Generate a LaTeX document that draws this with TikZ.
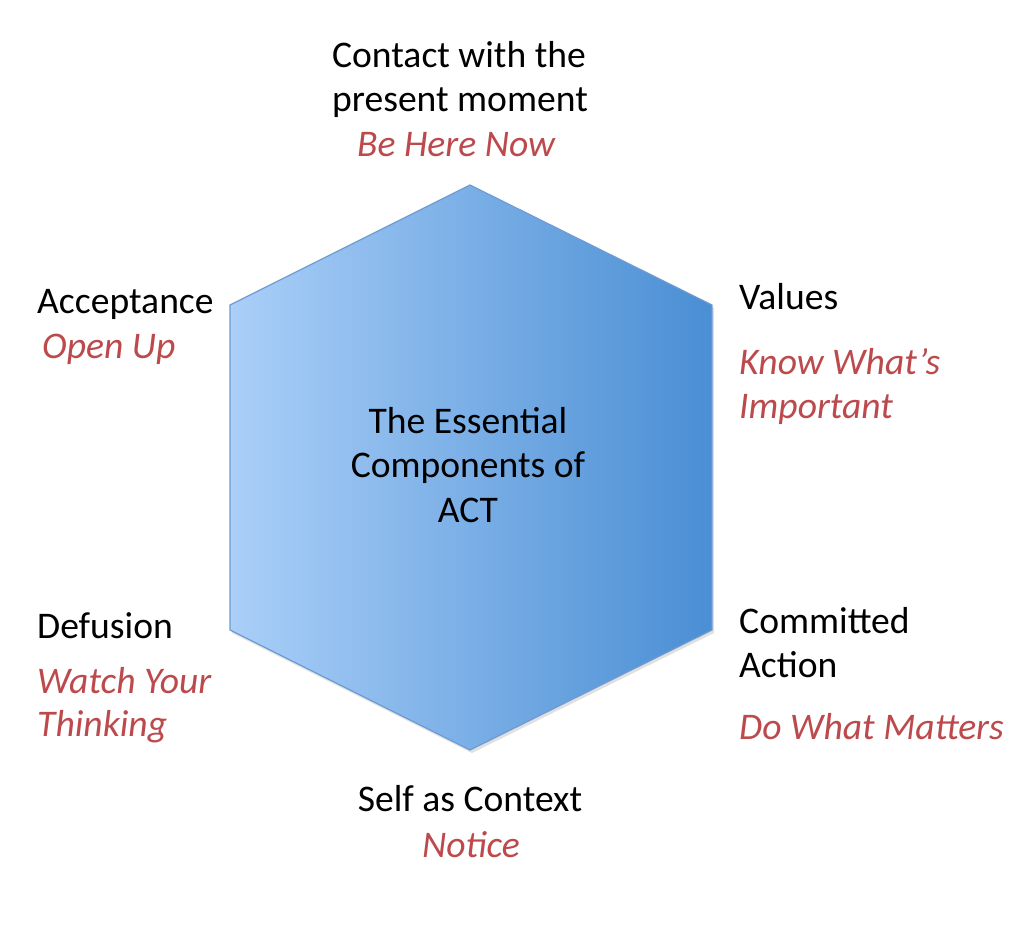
\documentclass[tikz,border=0pt]{standalone}
\usepackage{fontspec}
\setmainfont{Carlito}
\definecolor{hexL}{HTML}{AACFF8}
\definecolor{hexR}{HTML}{4A8ED4}
\definecolor{hexEdge}{HTML}{6E9CD2}
\definecolor{actred}{HTML}{BC4A4C}
\tikzset{
  lbl/.style={inner sep=0pt, anchor=base west, font=\fontsize{37.6}{44}\selectfont, text=black},
  clbl/.style={inner sep=0pt, anchor=base, font=\fontsize{37.6}{44}\selectfont, text=black},
  sub/.style={text=actred, font=\fontsize{37.6}{44}\selectfont\itshape},
}
\begin{document}
\begin{tikzpicture}[x=1pt,y=-1pt]
\useasboundingbox[fill=white] (0,0) rectangle (1024,945);
% hexagon vertices
\coordinate (T) at (470,185);
\coordinate (UR) at (712,305);
\coordinate (LR) at (712,630);
\coordinate (B) at (470,750);
\coordinate (LL) at (230,630);
\coordinate (UL) at (230,305);
% shadow
\fill[black!12] ([shift={(2,3)}]T) -- ([shift={(2,3)}]UR) -- ([shift={(2,3)}]LR) -- ([shift={(2,3)}]B) -- ([shift={(2,3)}]LL) -- ([shift={(2,3)}]UL) -- cycle;
\shade[left color=hexL, right color=hexR, draw=hexEdge, line width=1.2pt]
  (T) -- (UR) -- (LR) -- (B) -- (LL) -- (UL) -- cycle;
% center text
\node[clbl] (c1) at (468,433) {The Essential};
\node[clbl] (c2) at (468,477) {Components of};
\node[clbl] (c3) at (468,522) {ACT};
% top
\node[clbl] (t1) at (459,67) {Contact with the};
\node[clbl] (t2) at (460,111) {present moment};
\node[clbl,sub] (t3) at (456,156) {Be Here Now};
% upper left
\node[lbl] (a1) at (37,313) {Acceptance};
\node[lbl,sub] (a2) at (42,358) {Open Up};
% upper right
\node[lbl] (v1) at (739,309) {Values};
\node[lbl,sub] (v2) at (739,374) {Know What’s};
\node[lbl,sub] (v3) at (739,418) {Important};
% lower left
\node[lbl] (d1) at (37,638) {Defusion};
\node[lbl,sub] (d2) at (37,693) {Watch Your};
\node[lbl,sub] (d3) at (37,736) {Thinking};
% lower right
\node[lbl] (m1) at (739,633) {Committed};
\node[lbl] (m2) at (739,677) {Action};
\node[lbl,sub] (m3) at (739,739) {Do What Matters};
% bottom
\node[clbl] (s1) at (470,811) {Self as Context};
\node[clbl,sub] (s2) at (471,857) {Notice};
\end{tikzpicture}
\end{document}
